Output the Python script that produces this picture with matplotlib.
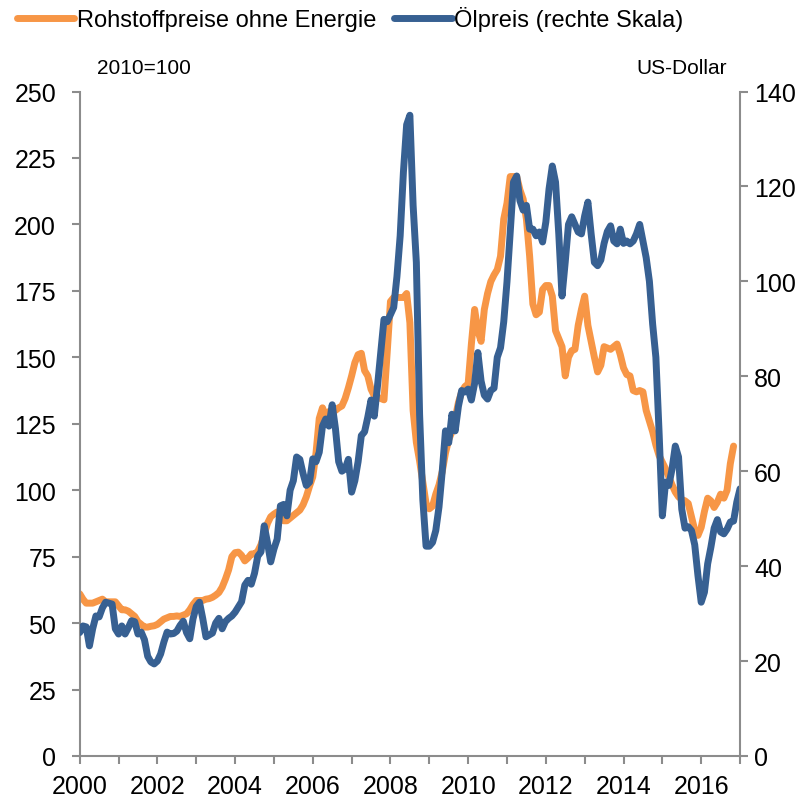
import matplotlib
matplotlib.use("Agg")
import numpy as np
import matplotlib.pyplot as plt

# monthly values, Jan 2000 onwards
rohstoff = [  # non-energy commodity prices, 2010=100
    61, 59, 57.5, 57.5, 57.5, 58, 58.5, 59, 58, 58, 58, 58,
    56.5, 55, 55, 54.5, 53.5, 52.5, 50.5, 49.5, 48.5, 48.5, 48.8, 49,
    49.5, 50.5, 51.5, 52, 52.5, 52.5, 52.7, 52.5, 53, 53.5, 55, 57,
    58.5, 58.5, 58.5, 59, 59.2, 59.7, 60.5, 61.5, 63.5, 66.5, 70, 75,
    76.5, 76.7, 75.5, 73.4, 74.5, 76, 76, 77, 79.5, 83.5, 87.5, 90,
    91, 91.8, 90.5, 88.5, 88.5, 89.5, 90.5, 91.5, 92.5, 94.5, 97.5, 101.5,
    105, 114, 127, 131, 128, 129.5, 130.5, 130, 131, 131.7, 134.5, 138.5,
    143, 148, 151, 151.5, 145, 143, 138, 135.5, 135, 134.5, 134, 152,
    171, 172.5, 172.5, 172.5, 172.5, 174, 163, 130, 118, 111, 103, 95,
    93, 94, 98.5, 102, 107, 114, 119, 122, 127, 133, 137, 139,
    140, 155, 168, 160, 156, 168, 174, 178.5, 181, 183, 188, 202,
    208, 218, 218, 218, 213, 209.5, 202, 188, 170, 166, 167, 175.5,
    177, 177, 173, 160, 157, 154, 143, 150, 152.5, 153, 162, 168,
    173, 162, 156, 150, 144.5, 147, 154, 153.5, 153, 154, 155, 151,
    146, 143.5, 143, 137.5, 137, 137.5, 137, 130, 126, 122, 117, 113,
    110.5, 108, 105, 102, 99.3, 97.5, 96.5, 96, 95, 90, 85, 83,
    86, 92, 97, 96, 93.5, 95.5, 98.5, 97, 100, 110, 116.6,
]

oel = [  # oil price, US-Dollar
    26, 27.4, 27.2, 23.2, 26.8, 29.5, 29.3, 31.2, 32.4, 32.2, 32, 26.8,
    25.7, 27.4, 25.7, 27, 28.5, 28.3, 25.7, 26.1, 24.5, 21, 19.8, 19.4,
    20, 21.5, 24, 26.1, 25.7, 25.8, 26.3, 27.5, 28.4, 26, 24.7, 28.9,
    31.5, 32.4, 29, 25.1, 25.5, 25.9, 28, 29, 26.8, 28.3, 29, 29.5,
    30.3, 31.4, 32.5, 36, 37, 36.2, 38.5, 42.1, 43, 48.5, 45, 40.9,
    43.6, 45.7, 52.7, 53, 50.6, 56, 58, 63, 62.5, 59.5, 57, 57.7,
    62.6, 62, 64, 69.5, 71, 69.5, 74, 69, 62, 60, 60.5, 62.5,
    55.6, 58, 62, 67.5, 68.3, 71.4, 75, 71.6, 78, 85, 92, 91.5,
    93, 94.5, 101, 109.6, 123, 133, 135, 116, 104, 72, 54, 44.2,
    44.2, 45, 47.5, 52.5, 60, 68.5, 66, 72, 68.5, 73.7, 77, 76.7,
    77.3, 75, 78.5, 85, 79, 76, 75.2, 77, 77.5, 84, 86, 91.5,
    99.9, 110.4, 120.9, 122.2, 117, 115, 116, 111, 111, 109.6, 110.4, 108.3,
    112.5, 119.5, 124.3, 120.9, 110, 96.9, 104.1, 112, 113.6, 112, 110.4, 110,
    113.8, 116.7, 110, 104, 103.3, 104.5, 108, 110.5, 111.7, 108.5, 107.9, 111,
    108, 108.5, 107.9, 108.5, 110, 112, 108.5, 105, 100, 91, 84, 68,
    50.6, 57.7, 57, 60.5, 65.3, 63, 52, 48, 48.3, 47.5, 44.5, 38,
    32.4, 34.5, 40.5, 44, 48, 49.8, 47.2, 46.8, 47.8, 49.3, 49.5, 53.5,
    56.3,
]

t_roh = 2000 + np.arange(len(rohstoff)) / 12.
t_oel = 2000 + np.arange(len(oel)) / 12.

orange = "#F79646"
blue = "#376092"
grey = "#8C8C8C"

plt.rcParams['font.family'] = ['Liberation Sans', 'DejaVu Sans']

fig = plt.figure(figsize=(8.11, 8.03), dpi=100)
ax = fig.add_axes([0.0983, 0.0573, 0.8142, 0.8275])
ax2 = ax.twinx()

l1, = ax.plot(t_roh, rohstoff, color=orange, lw=5, solid_joinstyle="round",
              solid_capstyle="round", label="Rohstoffpreise ohne Energie")
l2, = ax2.plot(t_oel, oel, color=blue, lw=5, solid_joinstyle="round",
               solid_capstyle="round", label="Ölpreis (rechte Skala)")

ax.set_xlim(2000, 2017)
ax.set_ylim(0, 250)
ax2.set_ylim(0, 140)
ax.set_yticks(np.arange(0, 251, 25))
ax2.set_yticks(np.arange(0, 141, 20))
ax.set_xticks(np.arange(2000, 2018, 1))
ax.set_xticklabels([str(y) if y % 2 == 0 and y < 2017 else "" for y in range(2000, 2018)])

for a in (ax, ax2):
    a.spines["top"].set_visible(False)
    for s in ("left", "right", "bottom"):
        a.spines[s].set_color(grey)
        a.spines[s].set_linewidth(1.5)
    a.tick_params(axis="both", which="major", labelsize=18, color=grey,
                  width=1.5, length=6, direction="out", pad=4)
ax.tick_params(axis="y", pad=11)
ax.tick_params(axis="x", pad=7)
ax.spines["right"].set_visible(False)
ax2.spines["left"].set_visible(False)
ax2.spines["bottom"].set_visible(False)

ax.text(0.026, 1.022, "2010=100", transform=ax.transAxes, fontsize=15,
        ha="left", va="bottom")
ax2.text(0.98, 1.022, "US-Dollar", transform=ax2.transAxes, fontsize=15,
         ha="right", va="bottom")

fig.legend(handles=[l1, l2], loc="upper left", bbox_to_anchor=(0.0, 1.012),
           ncol=2, frameon=False, fontsize=17, handlelength=2.45,
           handletextpad=0.1, columnspacing=0.75, borderaxespad=0.3)

fig.savefig("out.png", dpi=100)
